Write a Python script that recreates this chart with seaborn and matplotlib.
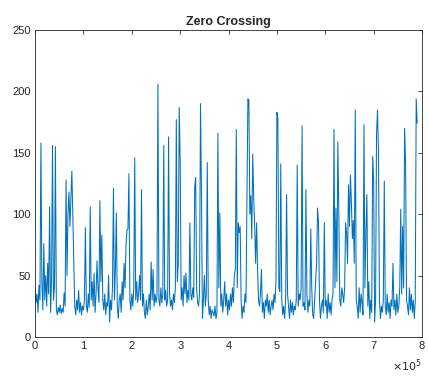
import numpy as np
import pandas as pd
import matplotlib
matplotlib.use("Agg")
import matplotlib.pyplot as plt
import seaborn as sns

# zero crossing count per frame (hop of 2000 samples)
hop = 2000
zc_values = [
    40, 28, 35, 20, 42, 30, 158, 45, 22, 76,
    30, 50, 25, 60, 35, 106, 20, 45, 156, 30,
    40, 155, 22, 18, 24, 20, 26, 19, 23, 20,
    36, 25, 128, 50, 100, 118, 90, 112, 135, 98,
    60, 25, 18, 30, 22, 38, 20, 28, 18, 25,
    22, 30, 89, 25, 20, 35, 24, 106, 30, 45,
    25, 52, 20, 35, 62, 40, 28, 111, 45, 83,
    30, 22, 35, 18, 28, 25, 50, 12, 30, 22,
    40, 121, 30, 55, 101, 25, 15, 30, 35, 20,
    45, 30, 60, 40, 76, 87, 88, 133, 30, 22,
    35, 25, 40, 146, 30, 45, 28, 35, 50, 30,
    120, 25, 35, 20, 15, 30, 18, 25, 35, 22,
    61, 30, 55, 25, 35, 28, 33, 206, 30, 25,
    40, 28, 35, 156, 30, 38, 25, 30, 163, 35,
    25, 30, 22, 35, 28, 40, 177, 45, 60, 187,
    144, 30, 40, 25, 50, 35, 52, 28, 38, 30,
    93, 35, 30, 40, 32, 122, 130, 40, 28, 25,
    35, 190, 117, 15, 30, 50, 25, 35, 142, 30,
    18, 25, 15, 22, 20, 17, 25, 15, 20, 166,
    40, 101, 25, 35, 20, 30, 45, 25, 35, 18,
    30, 22, 35, 25, 40, 28, 50, 55, 169, 40,
    93, 85, 90, 30, 15, 25, 20, 35, 28, 115,
    194, 193, 100, 115, 80, 149, 113, 90, 60, 93,
    55, 30, 25, 35, 55, 20, 28, 15, 30, 25,
    35, 20, 30, 18, 25, 30, 22, 35, 28, 45,
    183, 178, 40, 37, 141, 30, 18, 25, 15, 30,
    116, 35, 25, 15, 30, 20, 28, 18, 25, 22,
    30, 140, 25, 35, 30, 40, 172, 25, 28, 22,
    120, 35, 20, 30, 25, 88, 40, 18, 15, 30,
    45, 60, 105, 93, 30, 15, 25, 30, 20, 93,
    25, 30, 15, 35, 20, 28, 18, 30, 35, 169,
    40, 105, 45, 159, 101, 30, 25, 40, 35, 28,
    40, 93, 85, 60, 124, 90, 132, 110, 80, 95,
    60, 185, 30, 25, 15, 40, 20, 35, 28, 18,
    173, 40, 85, 116, 25, 45, 15, 30, 20, 147,
    128, 12, 30, 166, 185, 150, 30, 15, 25, 20,
    30, 127, 25, 18, 35, 20, 28, 15, 30, 25,
    60, 22, 30, 18, 35, 20, 25, 40, 104, 35,
    90, 40, 170, 142, 30, 25, 18, 40, 22, 35,
    20, 30, 15, 28, 194, 174,
]
x_ticks = [0, 100000, 200000, 300000, 400000, 500000, 600000, 700000, 800000]
x_ticklabels = ["0", "1", "2", "3", "4", "5", "6", "7", "8"]
y_ticks = [0, 50, 100, 150, 200, 250]

df = pd.DataFrame({"sample": np.arange(len(zc_values)) * hop, "zc": zc_values})

sns.set_style("white")
plt.rcParams["font.family"] = ["Liberation Sans", "DejaVu Sans"]
plt.rcParams["xtick.direction"] = "in"
plt.rcParams["ytick.direction"] = "in"

fig = plt.figure(figsize=(4.28, 3.76), dpi=100)
ax = fig.add_axes([0.082, 0.104, 0.904, 0.816])
sns.lineplot(data=df, x="sample", y="zc", ax=ax, color="#0072BD", linewidth=0.75)

ax.set_xlim(0, 800000)
ax.set_ylim(0, 250)
ax.set_xticks(x_ticks)
ax.set_xticklabels(x_ticklabels)
ax.set_yticks(y_ticks)
ax.tick_params(axis="both", labelsize=8, colors="#262626", length=3, width=0.6,
               top=True, right=True, pad=3)
for s in ax.spines.values():
    s.set_color("#262626")
    s.set_linewidth(0.6)
ax.set_xlabel("")
ax.set_ylabel("")
ax.set_title("Zero Crossing", fontsize=9, fontweight="bold", pad=4)
ax.text(1.0, -0.068, r"$\times10^5$", transform=ax.transAxes, ha="right", va="top",
        fontsize=8, color="#262626")

fig.savefig("out.png", dpi=100)
